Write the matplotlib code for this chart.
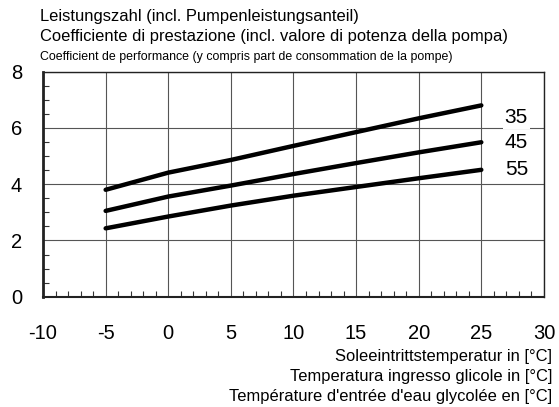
import matplotlib
matplotlib.use("Agg")
import matplotlib.pyplot as plt
from matplotlib.ticker import MultipleLocator
from matplotlib import font_manager

# brine inlet temperature (°C) and COP for each flow temperature
temp = [-5, 0, 5, 10, 15, 20, 25]
cop_35 = [3.80, 4.41, 4.86, 5.36, 5.85, 6.34, 6.80]
cop_45 = [3.05, 3.56, 3.95, 4.36, 4.75, 5.13, 5.49]
cop_55 = [2.43, 2.85, 3.24, 3.59, 3.90, 4.21, 4.51]
series = [("35", cop_35, 6.36), ("45", cop_45, 5.47), ("55", cop_55, 4.51)]

title_lines = [
    "Leistungszahl (incl. Pumpenleistungsanteil)",
    "Coefficiente di prestazione (incl. valore di potenza della pompa)",
    "Coefficient de performance (y compris part de consommation de la pompe)",
]
xlabel_lines = [
    "Soleeintrittstemperatur in [°C]",
    "Temperatura ingresso glicole in [°C]",
    "Température d'entrée d'eau glycolée en [°C]",
]

names = {f.name for f in font_manager.fontManager.ttflist}
narrow = "Liberation Sans Narrow" if "Liberation Sans Narrow" in names else "Liberation Sans"
plt.rcParams["font.family"] = ["Liberation Sans", "DejaVu Sans"]
plt.rcParams["axes.unicode_minus"] = False

fig = plt.figure(figsize=(5.59, 4.07), dpi=100)
ax = fig.add_axes([0.077, 0.271, 0.896, 0.553])

for name, vals, _ in series:
    ax.plot(temp, vals, color="black", lw=3.2, solid_capstyle="round", zorder=3)
for name, vals, ylab in series:
    ax.text(27.8, ylab, name, fontsize=15, ha="center", va="center", zorder=4,
            bbox=dict(facecolor="white", edgecolor="none", pad=1.5))

ax.set_xlim(-10, 30)
ax.set_ylim(0, 8)
ax.xaxis.set_major_locator(MultipleLocator(5))
ax.xaxis.set_minor_locator(MultipleLocator(1))
ax.yaxis.set_major_locator(MultipleLocator(2))
ax.yaxis.set_minor_locator(MultipleLocator(0.5))
ax.grid(True, which="major", color="#555555", lw=0.8)
ax.tick_params(which="major", length=0, labelsize=14.5)
ax.tick_params(axis="x", which="major", pad=19.5)
ax.tick_params(axis="y", which="major", pad=15)
ax.tick_params(which="minor", direction="in", length=4, width=0.8, color="#333333")
for side in ("top", "right"):
    ax.spines[side].set_linewidth(1.0)
ax.spines["left"].set_linewidth(2.0)
ax.spines["bottom"].set_linewidth(1.5)
for sp in ax.spines.values():
    sp.set_color("#222222")

fig.text(40 / 559, 1 - 17 / 407, title_lines[0], fontsize=11.9, va="center")
fig.text(40 / 559, 1 - 37 / 407, title_lines[1], fontsize=11.9, va="center")
t3 = fig.text(40 / 559, 1 - 57 / 407, title_lines[2], fontsize=10, va="center",
              family=[narrow, "DejaVu Sans"])
# fit the condensed third line to its width in the reference (~412 px)
r = fig.canvas.get_renderer()
w = t3.get_window_extent(r).width
t3.set_fontsize(min(10.5, 10 * 412 / w))

for i, line in enumerate(xlabel_lines):
    fig.text(552 / 559, 1 - (357 + 20 * i) / 407, line, fontsize=11.9, ha="right", va="center")

fig.savefig("out.png", dpi=100)
